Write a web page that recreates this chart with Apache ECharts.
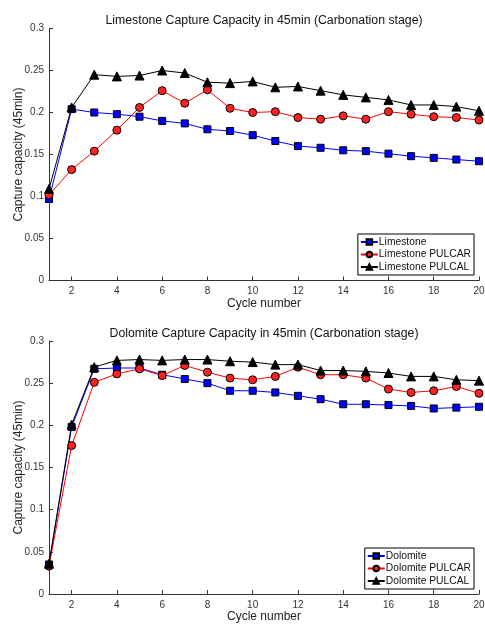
<!DOCTYPE html>
<html>
<head>
<meta charset="utf-8">
<script src="https://cdn.jsdelivr.net/npm/echarts@6/dist/echarts.min.js"></script>
<style>
  html, body { margin: 0; padding: 0; background: #fff; }
  #main { width: 485px; height: 625px; }
</style>
</head>
<body>
<div id="main"></div>
<script>
// cycle numbers 1..20
var cycles = [1, 2, 3, 4, 5, 6, 7, 8, 9, 10, 11, 12, 13, 14, 15, 16, 17, 18, 19, 20];
var xTicks = [2, 4, 6, 8, 10, 12, 14, 16, 18, 20];

// limestone
var limestone = [0.097, 0.204, 0.200, 0.198, 0.195, 0.190, 0.187, 0.180, 0.178, 0.173, 0.166, 0.160, 0.158, 0.155, 0.154, 0.151, 0.148, 0.146, 0.144, 0.142];
var limestonePulcar = [0.102, 0.132, 0.154, 0.179, 0.206, 0.226, 0.211, 0.227, 0.205, 0.200, 0.201, 0.194, 0.192, 0.196, 0.192, 0.201, 0.198, 0.195, 0.194, 0.191];
var limestonePulcal = [0.109, 0.206, 0.245, 0.243, 0.244, 0.250, 0.247, 0.236, 0.235, 0.237, 0.230, 0.231, 0.226, 0.221, 0.218, 0.215, 0.209, 0.209, 0.207, 0.202];

// dolomite
var dolomite = [0.035, 0.198, 0.267, 0.268, 0.268, 0.260, 0.255, 0.250, 0.241, 0.241, 0.239, 0.235, 0.231, 0.225, 0.225, 0.224, 0.223, 0.220, 0.221, 0.222];
var dolomitePulcar = [0.033, 0.176, 0.251, 0.261, 0.267, 0.259, 0.271, 0.263, 0.256, 0.254, 0.258, 0.269, 0.260, 0.260, 0.256, 0.243, 0.239, 0.241, 0.246, 0.238];
var dolomitePulcal = [0.036, 0.201, 0.269, 0.277, 0.278, 0.277, 0.278, 0.278, 0.276, 0.275, 0.272, 0.272, 0.265, 0.265, 0.264, 0.262, 0.258, 0.258, 0.254, 0.253];

function pairs(vals) {
    return cycles.map(function (c, i) { return [c, vals[i]]; });
}

var FONT = 'Liberation Sans';
var AXIS_COLOR = '#333';

function mkX(gi) {
    return {
        type: 'value', gridIndex: gi, min: 1, max: 20,
        name: 'Cycle number', nameLocation: 'middle', nameGap: 17,
        nameTextStyle: { fontFamily: FONT, fontSize: 12, color: '#222' },
        axisLine: { lineStyle: { color: AXIS_COLOR, width: 1 } },
        axisTick: { inside: true, length: 4, customValues: xTicks, lineStyle: { color: AXIS_COLOR } },
        axisLabel: { customValues: xTicks, fontFamily: FONT, fontSize: 10, color: '#333', margin: 6 },
        splitLine: { show: false }
    };
}

function mkY(gi) {
    return {
        type: 'value', gridIndex: gi, min: 0, max: 0.3, interval: 0.05,
        name: 'Capture capacity (45min)', nameLocation: 'middle', nameGap: 24,
        nameMoveOverlap: false,
        nameTextStyle: { fontFamily: FONT, fontSize: 12, color: '#222' },
        axisLine: { show: true, lineStyle: { color: AXIS_COLOR, width: 1 } },
        axisTick: { show: true, inside: true, length: 4, lineStyle: { color: AXIS_COLOR } },
        axisLabel: {
            fontFamily: FONT, fontSize: 10, color: '#333', margin: 5,
            formatter: function (v) { return String(+v.toFixed(2)); }
        },
        splitLine: { show: false }
    };
}

function mkSeries(name, vals, gi, kind) {
    var st = {
        blue: { color: '#0000ff', symbol: 'rect', size: 7 },
        red: { color: '#ff2020', symbol: 'circle', size: 8 },
        black: { color: '#000000', symbol: 'triangle', size: 9 }
    }[kind];
    return {
        name: name, type: 'line', xAxisIndex: gi, yAxisIndex: gi,
        data: pairs(vals),
        symbol: st.symbol, symbolSize: st.size, showAllSymbol: true,
        lineStyle: { color: kind === 'red' ? '#ff0000' : st.color, width: 1 },
        itemStyle: { color: st.color, borderColor: '#000', borderWidth: 1 },
        emphasis: { disabled: true },
        animation: false
    };
}

function mkLegend(names, right, top) {
    return {
        data: names, orient: 'vertical', right: right, top: top,
        backgroundColor: '#fff', borderColor: '#000', borderWidth: 1,
        padding: [3, 3, 3, 2], itemGap: 2.5, itemWidth: 17, itemHeight: 7,
        textStyle: { fontFamily: FONT, fontSize: 10.3, color: '#111', padding: [0, 0, 0, -4] },
        selectedMode: false
    };
}

var chart = echarts.init(document.getElementById('main'));
chart.setOption({
    backgroundColor: '#fff',
    animation: false,
    title: [
        { text: 'Limestone Capture Capacity in 45min (Carbonation stage)', left: 259, top: 10, textAlign: 'center',
          textStyle: { fontFamily: FONT, fontSize: 12.3, fontWeight: 'normal', color: '#111' } },
        { text: 'Dolomite Capture Capacity in 45min (Carbonation stage)', left: 259, top: 323, textAlign: 'center',
          textStyle: { fontFamily: FONT, fontSize: 12.3, fontWeight: 'normal', color: '#111' } }
    ],
    legend: [
        mkLegend(['Limestone', 'Limestone PULCAR', 'Limestone PULCAL'], 11, 234),
        mkLegend(['Dolomite', 'Dolomite PULCAR', 'Dolomite PULCAL'], 11, 548)
    ],
    grid: [
        { left: 49, width: 430, top: 28.5, height: 252, outerBoundsMode: 'none', containLabel: false },
        { left: 49, width: 430, top: 341, height: 253, outerBoundsMode: 'none', containLabel: false }
    ],
    xAxis: [mkX(0), mkX(1)],
    yAxis: [mkY(0), mkY(1)],
    series: [
        mkSeries('Limestone', limestone, 0, 'blue'),
        mkSeries('Limestone PULCAR', limestonePulcar, 0, 'red'),
        mkSeries('Limestone PULCAL', limestonePulcal, 0, 'black'),
        mkSeries('Dolomite', dolomite, 1, 'blue'),
        mkSeries('Dolomite PULCAR', dolomitePulcar, 1, 'red'),
        mkSeries('Dolomite PULCAL', dolomitePulcal, 1, 'black')
    ]
});
</script>
</body>
</html>
